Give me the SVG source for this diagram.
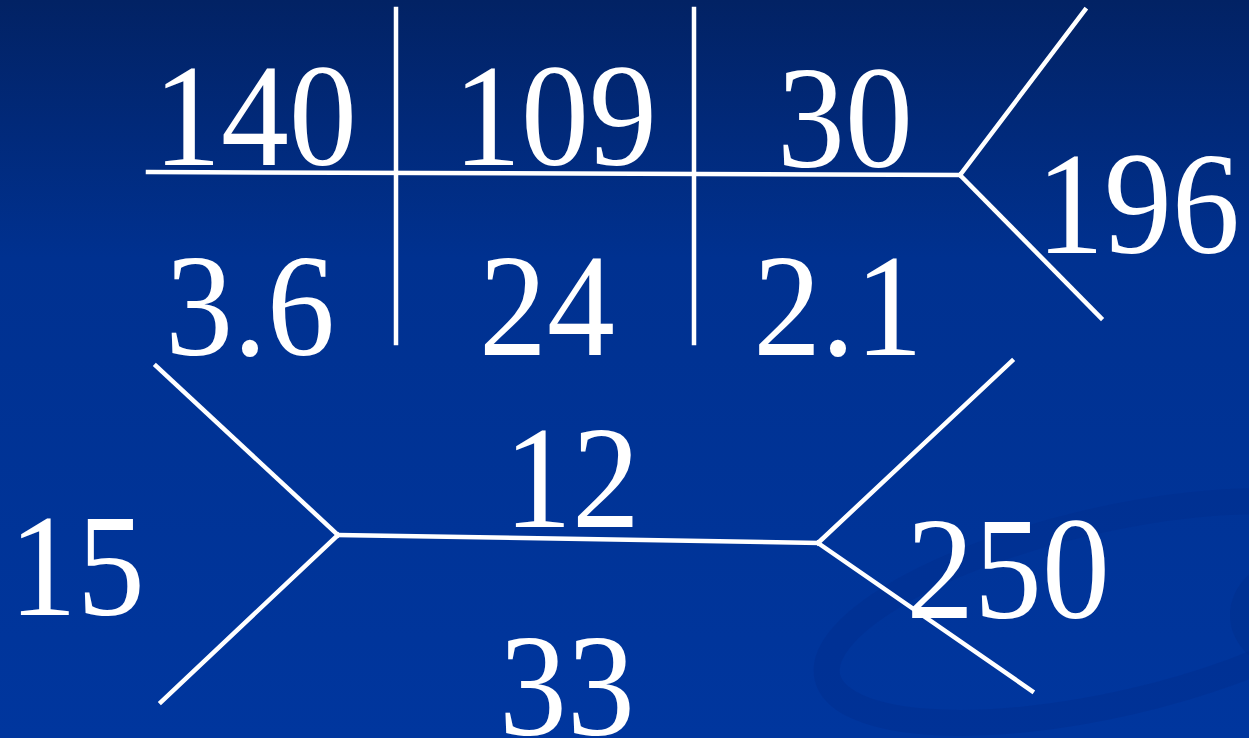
<svg xmlns="http://www.w3.org/2000/svg" width="1249" height="738" viewBox="0 0 1249 738">
<defs>
<linearGradient id="bg" x1="0" y1="0" x2="0" y2="1">
<stop offset="0" stop-color="#022264"/>
<stop offset="0.35" stop-color="#003190"/>
<stop offset="1" stop-color="#00369e"/>
</linearGradient>
</defs>
<style>
.t{font-family:"Liberation Serif","Times New Roman",serif;font-size:146px;fill:#fff;text-anchor:middle}
.l{stroke:#fff;stroke-width:4.5;fill:none;stroke-linecap:square}
</style>
<rect width="1249" height="738" fill="url(#bg)"/>
<g id="swirl" fill="none">
<ellipse cx="1110" cy="612" rx="290" ry="92" transform="rotate(-13 1110 612)" stroke="#002e8c" stroke-width="26" opacity="0.4"/>
<ellipse cx="1290" cy="615" rx="60" ry="55" fill="#002e8c" opacity="0.45"/>
</g>
<g id="connectors">
<line class="l" x1="148" y1="172" x2="960" y2="175"/>
<line class="l" x1="396" y1="9" x2="396" y2="343"/>
<line class="l" x1="694" y1="9" x2="694" y2="343"/>
<line class="l" x1="960" y1="175" x2="1085" y2="10"/>
<line class="l" x1="960" y1="175" x2="1101" y2="318"/>
<line class="l" x1="156" y1="366" x2="338" y2="535"/>
<line class="l" x1="338" y1="535" x2="161" y2="702"/>
<line class="l" x1="338" y1="535" x2="818" y2="543"/>
<line class="l" x1="818" y1="543" x2="1012" y2="361"/>
<line class="l" x1="818" y1="543" x2="1032" y2="691"/>
</g>
<g id="n140"><text class="t" transform="translate(255 165) scale(0.93 1)">140</text></g>
<g id="n109"><text class="t" transform="translate(555 165) scale(0.93 1)">109</text></g>
<g id="n30"><text class="t" transform="translate(845 167) scale(0.93 1)">30</text></g>
<g id="n196"><text class="t" transform="translate(1138 253) scale(0.93 1)">196</text></g>
<g id="n3_6"><text class="t" transform="translate(250 355) scale(0.93 1)">3.6</text></g>
<g id="n24"><text class="t" transform="translate(547 355) scale(0.93 1)">24</text></g>
<g id="n2_1"><text class="t" transform="translate(838 355) scale(0.93 1)">2.1</text></g>
<g id="n12"><text class="t" transform="translate(572 527) scale(0.93 1)">12</text></g>
<g id="n15"><text class="t" transform="translate(77 615) scale(0.93 1)">15</text></g>
<g id="n250"><text class="t" transform="translate(1008 618) scale(0.93 1)">250</text></g>
<g id="n33"><text class="t" transform="translate(567 735) scale(0.93 1)">33</text></g>
</svg>
